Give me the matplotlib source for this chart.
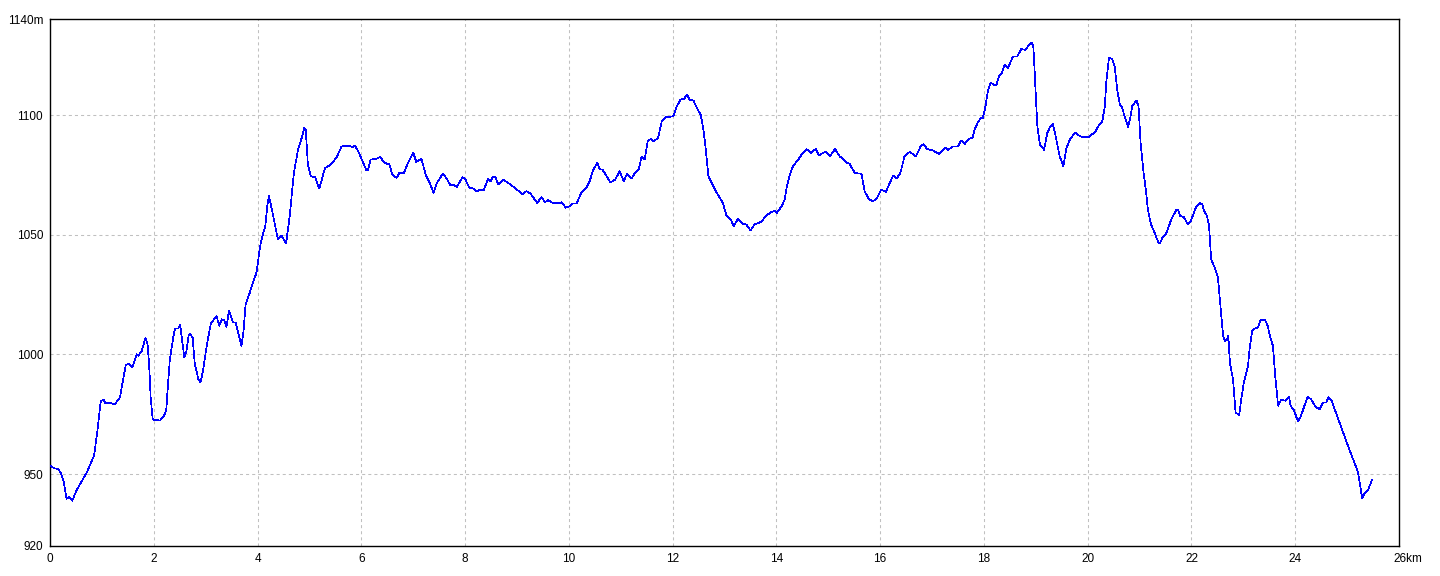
import matplotlib
matplotlib.use("Agg")
import matplotlib.pyplot as plt
from matplotlib.transforms import ScaledTranslation

distance_km = [
    0.00, 0.08, 0.16, 0.21, 0.26, 0.32, 0.37, 0.43, 0.51, 0.71, 0.85, 0.91, 0.96, 0.98,
    1.03, 1.07, 1.16, 1.25, 1.35, 1.41, 1.46, 1.51, 1.59, 1.67, 1.70, 1.77, 1.84, 1.88,
    1.91, 1.94, 1.98, 2.12, 2.18, 2.24, 2.27, 2.31, 2.38, 2.41, 2.47, 2.51, 2.54, 2.59,
    2.63, 2.67, 2.70, 2.75, 2.79, 2.86, 2.90, 2.95, 3.02, 3.10, 3.21, 3.26, 3.31, 3.36,
    3.40, 3.45, 3.53, 3.58, 3.64, 3.69, 3.73, 3.77, 3.85, 3.92, 3.98, 4.05, 4.11, 4.15,
    4.19, 4.22, 4.27, 4.34, 4.39, 4.46, 4.55, 4.62, 4.70, 4.78, 4.85, 4.90, 4.93, 4.97,
    5.03, 5.11, 5.19, 5.23, 5.30, 5.39, 5.52, 5.62, 5.75, 5.83, 5.88, 5.97, 6.05, 6.10,
    6.13, 6.18, 6.29, 6.36, 6.45, 6.54, 6.60, 6.68, 6.73, 6.82, 6.90, 7.00, 7.06, 7.16,
    7.24, 7.32, 7.39, 7.46, 7.57, 7.64, 7.71, 7.78, 7.84, 7.95, 8.00, 8.08, 8.16, 8.23,
    8.28, 8.36, 8.44, 8.49, 8.54, 8.58, 8.64, 8.73, 8.83, 8.96, 9.11, 9.18, 9.26, 9.39,
    9.47, 9.54, 9.60, 9.69, 9.79, 9.86, 9.94, 10.02, 10.08, 10.15, 10.24, 10.34, 10.40,
    10.47, 10.55, 10.60, 10.65, 10.73, 10.80, 10.89, 10.98, 11.06, 11.12, 11.21, 11.27,
    11.35, 11.40, 11.46, 11.52, 11.58, 11.63, 11.72, 11.79, 11.88, 12.01, 12.08, 12.15,
    12.22, 12.28, 12.33, 12.40, 12.47, 12.54, 12.59, 12.64, 12.69, 12.75, 12.85, 12.97,
    13.04, 13.12, 13.18, 13.26, 13.36, 13.42, 13.50, 13.58, 13.71, 13.81, 13.90, 13.97,
    14.01, 14.10, 14.16, 14.19, 14.26, 14.32, 14.42, 14.51, 14.58, 14.66, 14.76, 14.82,
    14.95, 15.03, 15.13, 15.22, 15.35, 15.41, 15.51, 15.64, 15.70, 15.79, 15.86, 15.93,
    16.02, 16.11, 16.18, 16.25, 16.32, 16.39, 16.47, 16.57, 16.69, 16.78, 16.83, 16.91,
    17.02, 17.14, 17.21, 17.26, 17.31, 17.40, 17.50, 17.56, 17.63, 17.71, 17.78, 17.82,
    17.89, 17.95, 17.98, 18.03, 18.08, 18.13, 18.19, 18.24, 18.29, 18.34, 18.40, 18.46,
    18.56, 18.64, 18.72, 18.80, 18.87, 18.91, 18.95, 18.98, 19.00, 19.03, 19.08, 19.16,
    19.22, 19.28, 19.33, 19.39, 19.46, 19.53, 19.59, 19.67, 19.77, 19.85, 19.94, 20.03,
    20.07, 20.13, 20.21, 20.28, 20.33, 20.36, 20.41, 20.47, 20.52, 20.57, 20.62, 20.66,
    20.71, 20.78, 20.82, 20.86, 20.94, 20.98, 21.02, 21.07, 21.12, 21.16, 21.22, 21.29,
    21.36, 21.39, 21.44, 21.52, 21.61, 21.71, 21.74, 21.78, 21.85, 21.93, 21.99, 22.08,
    22.16, 22.21, 22.24, 22.30, 22.34, 22.38, 22.45, 22.51, 22.56, 22.61, 22.64, 22.68,
    22.71, 22.74, 22.80, 22.85, 22.92, 22.96, 23.01, 23.09, 23.12, 23.17, 23.22, 23.28,
    23.33, 23.42, 23.47, 23.52, 23.57, 23.62, 23.67, 23.73, 23.81, 23.88, 23.91, 23.98,
    24.05, 24.10, 24.16, 24.24, 24.31, 24.40, 24.47, 24.54, 24.60, 24.64, 24.70, 24.98,
    25.21, 25.24, 25.29, 25.34, 25.40, 25.48,
]

elevation_m = [
    953.6, 952.5, 952.1, 950.5, 947.3, 939.7, 940.4, 938.9, 943.2, 950.8, 957.8, 967.5, 977.2, 980.5,
    981.2, 979.6, 979.8, 979.2, 982.1, 989.7, 995.5, 996.2, 994.6, 1000.1, 999.5, 1001.5, 1007.0, 1004.3,
    996.0, 982.1, 972.8, 972.4, 973.8, 976.5, 986.3, 998.0, 1007.8, 1010.8, 1010.8, 1012.5, 1007.0, 998.7,
    1001.5, 1007.8, 1008.5, 1007.0, 996.0, 989.7, 988.3, 993.2, 1003.6, 1012.9, 1016.1, 1012.0, 1014.7, 1014.3,
    1011.5, 1018.2, 1013.3, 1013.3, 1007.8, 1003.6, 1009.8, 1021.0, 1025.8, 1030.5, 1034.2, 1045.3, 1050.8, 1053.6,
    1062.6, 1066.1, 1061.2, 1053.6, 1048.3, 1049.7, 1046.4, 1057.8, 1075.8, 1085.5, 1090.4, 1094.6, 1093.9, 1079.3,
    1074.4, 1074.0, 1069.3, 1072.3, 1077.9, 1079.0, 1082.1, 1086.9, 1087.3, 1086.7, 1087.3, 1083.5, 1079.3, 1076.9,
    1077.0, 1081.4, 1081.7, 1082.5, 1080.0, 1079.4, 1075.1, 1073.7, 1075.8, 1075.8, 1080.0, 1084.4, 1080.4, 1081.7,
    1075.1, 1071.7, 1067.5, 1071.7, 1075.5, 1073.7, 1070.9, 1070.9, 1070.0, 1074.0, 1073.4, 1069.7, 1069.3, 1068.0,
    1068.7, 1068.6, 1073.3, 1072.3, 1074.4, 1074.2, 1071.0, 1073.0, 1071.7, 1069.6, 1066.8, 1068.2, 1067.2, 1063.3,
    1065.7, 1063.7, 1064.4, 1063.3, 1063.1, 1063.6, 1061.3, 1061.9, 1063.1, 1063.1, 1067.5, 1069.6, 1072.3,
    1077.2, 1080.0, 1077.2, 1077.2, 1074.4, 1071.9, 1073.0, 1076.5, 1072.3, 1075.5, 1073.5, 1075.8,
    1077.5, 1082.5, 1081.4, 1089.0, 1090.1, 1089.0, 1090.4, 1097.3, 1099.2, 1099.4, 1103.6, 1106.4,
    1106.8, 1108.5, 1106.4, 1106.1, 1102.9, 1100.1, 1094.6, 1085.5, 1074.4, 1071.7, 1067.5, 1063.3,
    1057.8, 1056.4, 1053.6, 1056.7, 1054.6, 1054.3, 1051.8, 1054.3, 1055.4, 1058.2, 1059.4, 1060.1,
    1059.2, 1061.9, 1064.7, 1068.9, 1075.1, 1078.6, 1081.4, 1084.2, 1085.8, 1084.2, 1085.8, 1083.2,
    1084.8, 1082.8, 1085.8, 1082.8, 1080.2, 1079.7, 1075.8, 1075.5, 1068.2, 1064.7, 1064.0, 1065.0,
    1068.9, 1067.9, 1071.4, 1074.7, 1073.5, 1075.8, 1082.8, 1084.6, 1082.8, 1086.9, 1087.8, 1085.8,
    1085.2, 1083.7, 1085.5, 1086.5, 1085.5, 1086.9, 1086.9, 1089.4, 1088.0, 1090.1, 1090.4, 1093.9,
    1097.3, 1098.8, 1098.8, 1103.6, 1110.5, 1113.6, 1112.6, 1112.6, 1116.1, 1117.2, 1121.0, 1119.6,
    1124.4, 1124.4, 1127.6, 1127.2, 1129.3, 1130.3, 1129.3, 1117.5, 1107.8, 1095.3, 1087.6, 1085.5,
    1092.5, 1095.3, 1096.2, 1090.4, 1082.8, 1078.6, 1086.2, 1090.4, 1092.7, 1091.1, 1090.8, 1090.7,
    1091.8, 1092.5, 1095.5, 1097.3, 1103.6, 1114.0, 1123.8, 1123.5, 1120.3, 1110.5, 1104.3, 1103.6,
    1099.4, 1095.0, 1098.8, 1103.9, 1106.1, 1103.6, 1088.3, 1077.2, 1068.9, 1060.5, 1054.3, 1050.8,
    1046.9, 1046.4, 1048.7, 1050.8, 1056.4, 1060.5, 1060.5, 1057.8, 1057.5, 1054.3, 1055.9, 1061.2,
    1063.3, 1062.6, 1060.2, 1057.8, 1053.6, 1039.7, 1036.2, 1032.1, 1020.0, 1007.8, 1005.7, 1006.1,
    1007.8, 996.7, 989.7, 975.8, 974.7, 981.4, 988.3, 995.3, 1002.2, 1009.9, 1010.8, 1011.3,
    1014.4, 1014.3, 1011.9, 1007.0, 1003.6, 989.7, 978.6, 981.1, 980.7, 982.5, 978.6, 976.5,
    972.1, 973.7, 977.5, 982.5, 981.1, 977.9, 977.2, 980.0, 980.0, 982.1, 980.7, 964.0,
    950.8, 946.7, 940.0, 942.1, 943.2, 947.6,
]

x_ticks = [0, 2, 4, 6, 8, 10, 12, 14, 16, 18, 20, 22, 24, 26]
x_tick_labels = ["0", "2", "4", "6", "8", "10", "12", "14", "16", "18", "20", "22", "24", "26km"]
y_ticks = [920, 950, 1000, 1050, 1100, 1140]
y_tick_labels = ["920", "950", "1000", "1050", "1100", "1140m"]
x_grid = [2, 4, 6, 8, 10, 12, 14, 16, 18, 20, 22, 24]
y_grid = [950, 1000, 1050, 1100]

plt.rcParams['font.family'] = ['Liberation Sans', 'DejaVu Sans']
plt.rcParams['lines.scale_dashes'] = False

W, H = 1440, 576
fig = plt.figure(figsize=(W / 100, H / 100), dpi=100)
fig.patch.set_facecolor('white')
left, right, top, bottom = 50, 1399, 19.3, 546
ax = fig.add_axes([left / W, (H - bottom) / H, (right - left) / W, (bottom - top) / H])

for gx in x_grid:
    ax.axvline(gx, color='#c0c0c0', linewidth=0.75, dashes=(2.2, 2.2), zorder=1)
for gy in y_grid:
    ax.axhline(gy, color='#c0c0c0', linewidth=0.75, dashes=(2.2, 2.2), zorder=1)

ax.plot(distance_km, elevation_m, color='#0000ff', linewidth=0.5, antialiased=False, zorder=3)

ax.set_xlim(0, 26)
ax.set_ylim(920, 1140)
ax.set_xticks(x_ticks)
ax.set_xticklabels(x_tick_labels)
ax.set_yticks(y_ticks)
ax.set_yticklabels(y_tick_labels)
ax.tick_params(axis='both', length=0, labelsize=8.5, colors='black')
ax.tick_params(axis='x', pad=5)
ax.tick_params(axis='y', pad=5)

for sp in ax.spines.values():
    sp.set_color('black')
    sp.set_linewidth(1.0)

# "26km": keep the number centred on its tick with the unit trailing
last = ax.get_xticklabels()[-1]
last.set_horizontalalignment('left')
last.set_transform(last.get_transform() + ScaledTranslation(-6 / 100, 0, fig.dpi_scale_trans))

fig.savefig('out.png', dpi=100, facecolor='white')
